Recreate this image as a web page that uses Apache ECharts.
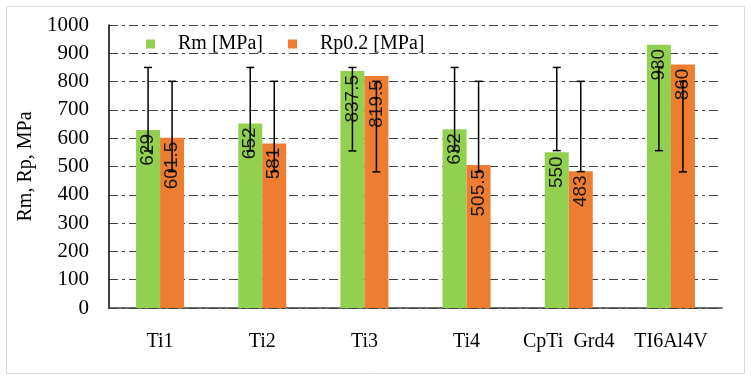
<!DOCTYPE html>
<html>
<head>
<meta charset="utf-8">
<script src="https://cdn.jsdelivr.net/npm/echarts@6/dist/echarts.min.js"></script>
<style>
  html, body { margin: 0; padding: 0; background: #fff; }
  #chart { width: 751px; height: 382px; }
</style>
</head>
<body>
<div id="chart"></div>
<script>
(function () {

    var categories = ['Ti1', 'Ti2', 'Ti3', 'Ti4', 'CpTi  Grd4', 'TI6Al4V'];
    var rmValues = [629, 652, 837.5, 632, 550, 930];
    var rpValues = [601.5, 581, 819.5, 505.5, 483, 860];
    // error bar ends as drawn in the picture
    var rmErrLow = [555, 555, 555, 555, 556, 556];
    var rmErrHigh = [850, 850, 850, 850, 850, 852];
    var rpErrLow = [482, 482, 481, 481, 482, 481];
    var rpErrHigh = [801, 801, 801, 801, 801, 801];
    var yTicks = [0, 100, 200, 300, 400, 500, 600, 700, 800, 900, 1000];

    var barPct = 0.235;
    var serif = 'Liberation Serif';

    function errorSeries(name, low, high, side) {
        return {
            name: name + ' err',
            type: 'custom',
            silent: true,
            z: 5,
            data: low.map(function (v, i) { return [i, v, high[i]]; }),
            renderItem: function (params, api) {
                var band = api.size([1, 0])[0];
                var dx = side * band * barPct / 2;
                var lo = api.coord([api.value(0), api.value(1)]);
                var hi = api.coord([api.value(0), api.value(2)]);
                var x = lo[0] + dx;
                var cap = 4;
                var style = { stroke: '#000', lineWidth: 1.5 };
                return {
                    type: 'group',
                    children: [
                        { type: 'line', shape: { x1: x, y1: lo[1], x2: x, y2: hi[1] }, style: style },
                        { type: 'line', shape: { x1: x - cap, y1: lo[1], x2: x + cap, y2: lo[1] }, style: style },
                        { type: 'line', shape: { x1: x - cap, y1: hi[1], x2: x + cap, y2: hi[1] }, style: style }
                    ]
                };
            }
        };
    }

    var valueLabel = {
        show: true,
        position: 'insideTop',
        rotate: 90,
        align: 'right',
        verticalAlign: 'middle',
        distance: 4,
        fontFamily: 'Liberation Sans',
        fontSize: 19,
        color: '#1a1a1a'
    };

    var option = {
        animation: false,
        graphic: [{
            type: 'rect',
            shape: { x: 6.5, y: 6.5, width: 738, height: 367 },
            style: { fill: 'none', stroke: '#d9d9d9', lineWidth: 1 },
            silent: true
        }],
        legend: {
            left: 141,
            top: 29,
            itemWidth: 9,
            itemHeight: 9,
            itemGap: 25,
            icon: 'rect',
            data: ['Rm [MPa]', 'Rp0.2 [MPa]'],
            textStyle: {
                fontFamily: serif,
                fontSize: 20,
                color: '#000',
                padding: [0, 0, 0, 18]
            }
        },
        grid: {
            left: 109,
            right: 29,
            top: 25,
            bottom: 74
        },
        xAxis: {
            type: 'category',
            data: categories,
            axisLine: { lineStyle: { color: '#404040', width: 1.5 } },
            axisTick: { show: false },
            axisLabel: {
                interval: 0,
                margin: 24,
                fontFamily: serif,
                fontSize: 20,
                color: '#000'
            }
        },
        yAxis: {
            type: 'value',
            min: yTicks[0],
            max: yTicks[yTicks.length - 1],
            interval: 100,
            name: 'Rm, Rp, MPa',
            nameLocation: 'middle',
            nameGap: 72,
            nameTextStyle: { fontFamily: serif, fontSize: 20, color: '#000' },
            axisLine: { show: true, lineStyle: { color: '#000', width: 1.5 } },
            axisTick: { show: false },
            axisLabel: {
                margin: 20,
                fontFamily: serif,
                fontSize: 21,
                color: '#000',
                formatter: function (v) { return String(v); }
            },
            splitLine: {
                lineStyle: { color: '#404040', width: 1, type: [9, 4, 3, 4] }
            }
        },
        series: [
            {
                name: 'Rm [MPa]',
                type: 'bar',
                barWidth: (barPct * 100) + '%',
                barGap: '0%',
                itemStyle: { color: '#92D050' },
                label: valueLabel,
                data: rmValues
            },
            {
                name: 'Rp0.2 [MPa]',
                type: 'bar',
                barWidth: (barPct * 100) + '%',
                barGap: '0%',
                itemStyle: { color: '#ED7D31' },
                label: valueLabel,
                data: rpValues
            },
            errorSeries('Rm [MPa]', rmErrLow, rmErrHigh, -1),
            errorSeries('Rp0.2 [MPa]', rpErrLow, rpErrHigh, 1)
        ]
    };

    var myChart = echarts.init(document.getElementById('chart'));
    myChart.setOption(option);

})();
</script>
</body>
</html>
